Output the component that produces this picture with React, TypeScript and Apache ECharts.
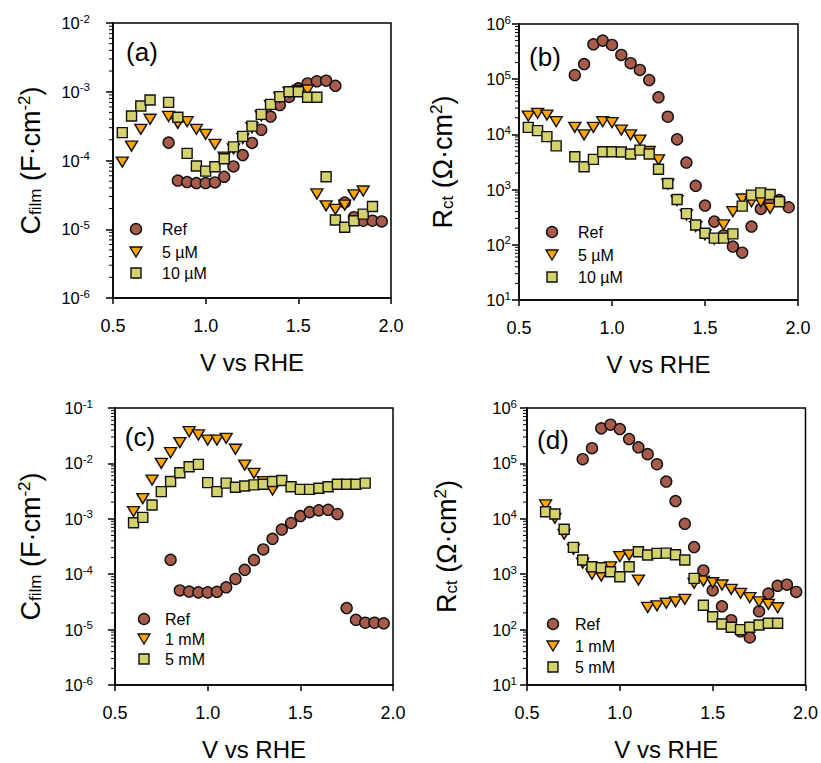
import React, { useEffect, useRef } from "react";
import * as echarts from "echarts";

// ---------- data ----------
const V_REF = [0.8, 0.85, 0.9, 0.95, 1.0, 1.05, 1.1, 1.15, 1.2, 1.25, 1.3, 1.35, 1.4, 1.45, 1.5, 1.55, 1.6, 1.65, 1.7, 1.75, 1.8, 1.85, 1.9, 1.95];
const CFILM_REF = [1.82e-4, 5.1e-5, 4.85e-5, 4.7e-5, 4.7e-5, 4.8e-5, 5.8e-5, 8.2e-5, 1.2e-4, 1.8e-4, 2.8e-4, 4.35e-4, 6.4e-4, 8.4e-4, 1.12e-3, 1.32e-3, 1.42e-3, 1.45e-3, 1.22e-3, 2.45e-5, 1.5e-5, 1.33e-5, 1.33e-5, 1.3e-5];
const RCT_REF = [1.19e5, 1.88e5, 4.29e5, 5.0e5, 4.17e5, 2.75e5, 1.95e5, 1.47e5, 9.66e4, 4.7e4, 2.09e4, 8.13e3, 3.09e3, 1.17e3, 513, 263, 148, 93, 72, 214, 447, 617, 646, 479];

const V_5UM = [0.55, 0.6, 0.65, 0.7, 0.8, 0.85, 0.9, 0.95, 1.0, 1.05, 1.1, 1.15, 1.2, 1.25, 1.3, 1.35, 1.4, 1.45, 1.5, 1.55, 1.6, 1.65, 1.7, 1.75, 1.8, 1.85];
const CFILM_5UM = [9.5e-5, 1.62e-4, 2.84e-4, 3.98e-4, 4.37e-4, 3.47e-4, 3.67e-4, 2.84e-4, 2.4e-4, 1.72e-4, 1.12e-4, 1.48e-4, 2.09e-4, 3.0e-4, 4.47e-4, 6.3e-4, 8.3e-4, 9.8e-4, 1.05e-3, 1.06e-3, 3.26e-5, 2.19e-5, 1.95e-5, 2.25e-5, 3.16e-5, 3.6e-5];
const RCT_5UM = [2.15e4, 2.41e4, 2.24e4, 1.7e4, 1.34e4, 9.8e3, 1.34e4, 1.7e4, 1.63e4, 1.2e4, 9.8e3, 7.9e3, 4.9e3, 3.47e3, 1.26e3, 631, 347, 214, 151, 126, 229, 398, 676, 603, 603, 457];

const V_10UM = [0.55, 0.6, 0.65, 0.7, 0.8, 0.85, 0.9, 0.95, 1.0, 1.05, 1.1, 1.15, 1.2, 1.25, 1.3, 1.35, 1.4, 1.45, 1.5, 1.55, 1.6, 1.65, 1.7, 1.75, 1.8, 1.85, 1.9];
const CFILM_10UM = [2.54e-4, 4.44e-4, 6.2e-4, 7.6e-4, 7.0e-4, 4.25e-4, 1.27e-4, 8.3e-5, 7.0e-5, 8.1e-5, 1.06e-4, 1.58e-4, 2.24e-4, 3.16e-4, 4.68e-4, 6.56e-4, 8.5e-4, 1.0e-3, 1.0e-3, 8.3e-4, 8.3e-4, 5.8e-5, 1.36e-5, 1.07e-5, 1.33e-5, 1.66e-5, 2.14e-5];
const RCT_10UM = [1.34e4, 1.17e4, 9.1e3, 6.2e3, 3.94e3, 2.6e3, 3.53e3, 4.86e3, 4.86e3, 4.79e3, 4.42e3, 5.2e3, 4.42e3, 2.33e3, 1.29e3, 661, 367, 229, 162, 132, 132, 158, 501, 794, 871, 813, 603];

const V_1MM_C = [0.6, 0.65, 0.7, 0.75, 0.8, 0.85, 0.9, 0.95, 1.0, 1.05, 1.1, 1.15, 1.2, 1.25, 1.3, 1.35];
const CFILM_1MM = [1.35e-3, 2.31e-3, 5.0e-3, 1.0e-2, 1.56e-2, 2.37e-2, 3.73e-2, 3.26e-2, 2.64e-2, 2.64e-2, 2.83e-2, 1.8e-2, 9.3e-3, 6.6e-3, 4.7e-3, 3.3e-3];

const V_MM = [0.6, 0.65, 0.7, 0.75, 0.8, 0.85, 0.9, 0.95, 1.0, 1.05, 1.1, 1.15, 1.2, 1.25, 1.3, 1.35, 1.4, 1.45, 1.5, 1.55, 1.6, 1.65, 1.7, 1.75, 1.8, 1.85];
const CFILM_5MM = [8.5e-4, 1.06e-3, 1.78e-3, 3.1e-3, 4.7e-3, 6.8e-3, 8.7e-3, 9.6e-3, 4.5e-3, 3.1e-3, 4.4e-3, 3.7e-3, 3.9e-3, 4.1e-3, 4.2e-3, 4.7e-3, 4.9e-3, 3.8e-3, 3.4e-3, 3.4e-3, 3.55e-3, 3.8e-3, 4.2e-3, 4.2e-3, 4.2e-3, 4.4e-3];
const RCT_1MM = [1.78e4, 1.02e4, 5.25e3, 2.82e3, 1.58e3, 1.0e3, 927, 1.36e3, 2.07e3, 2.22e3, 785, 251, 269, 299, 318, 352, 685, 753, 701, 638, 533, 452, 377, 318, 286, 248];
const RCT_5MM = [1.34e4, 1.22e4, 6.46e3, 3.05e3, 1.8e3, 1.36e3, 1.31e3, 1.11e3, 902, 1.36e3, 2.55e3, 2.22e3, 2.38e3, 2.4e3, 2.24e3, 1.8e3, 841, 275, 171, 126, 110, 100, 110, 121, 130, 130];

const PANEL_LABELS = ["(a)", "(b)", "(c)", "(d)"];
const LEGEND_AB = ["Ref", "5 \u00b5M", "10 \u00b5M"];
const LEGEND_CD = ["Ref", "1 mM", "5 mM"];

// ---------- styles ----------
const FONT = "'Liberation Sans', Arial, Helvetica, sans-serif";
const C_REF = "#A65B4B";
const C_TRI = "#FFA500";
const C_SQ = "#D4D26C";
const EDGE = "#111111";

const GRIDS = [
  { left: 113, top: 23, width: 278, height: 275 },
  { left: 519, top: 24, width: 279, height: 276 },
  { left: 115, top: 408, width: 278, height: 277 },
  { left: 527, top: 408, width: 279, height: 277 },
];
const Y_RANGE = [
  [-6, -2],
  [1, 6],
  [-6, -1],
  [1, 6],
];
const Y_NAMES = [
  "C{sub|film} (F\u00b7cm{sup|-2})",
  "R{sub|ct} (\u03a9\u00b7cm{sup|2})",
  "C{sub|film} (F\u00b7cm{sup|-2})",
  "R{sub|ct} (\u03a9\u00b7cm{sup|2})",
];
const Y_NAME_GAP = [68, 62, 70, 66];
const Y_LABEL_MARGIN = [23, 8, 22, 10];
const LEGEND_POS = [
  { x: 136, tx: 162, rows: [229, 252, 273] },
  { x: 552, tx: 578, rows: [232, 255, 277] },
  { x: 144, tx: 165, rows: [619, 639, 659] },
  { x: 553, tx: 575, rows: [624, 646, 667] },
];
const PANEL_LABEL_POS = [
  [142, 52],
  [545, 57],
  [140, 437],
  [553, 440],
];

const refStyle = {
  symbol: "circle",
  symbolSize: 11,
  itemStyle: { color: C_REF, borderColor: EDGE, borderWidth: 1.4, opacity: 1 },
};
const triStyle = {
  symbol: "triangle",
  symbolSize: [12, 10],
  symbolRotate: 180,
  itemStyle: { color: C_TRI, borderColor: EDGE, borderWidth: 1.4, opacity: 1 },
};
const sqStyle = {
  symbol: "rect",
  symbolSize: 10,
  itemStyle: { color: C_SQ, borderColor: EDGE, borderWidth: 1.4, opacity: 1 },
};

function pairs(xs: number[], ys: number[]) {
  return xs.map((x, i) => [x, ys[i]]);
}

export default function App() {
  const ref = useRef<HTMLDivElement>(null);

  useEffect(() => {
    if (!ref.current) return;
    const chart = echarts.init(ref.current, undefined, { renderer: "svg" });

    const xAxes = GRIDS.map((_, i) => ({
      type: "value",
      gridIndex: i,
      min: 0.5,
      max: 2.0,
      interval: 0.5,
      name: "V vs RHE",
      nameLocation: "middle",
      nameGap: 52,
      nameTextStyle: { fontFamily: FONT, fontSize: 24, color: "#000" },
      axisLine: { show: true, onZero: false, lineStyle: { color: "#000", width: 1.5 } },
      axisTick: { show: true, inside: false, length: 6, lineStyle: { color: "#000", width: 1.5 } },
      axisLabel: {
        margin: 19,
        fontFamily: FONT,
        fontSize: 18,
        color: "#000",
        formatter: (v: number) => v.toFixed(1),
      },
      splitLine: { show: false },
    }));

    const yAxes = GRIDS.map((_, i) => ({
      type: "log",
      logBase: 10,
      gridIndex: i,
      min: Math.pow(10, Y_RANGE[i][0]),
      max: Math.pow(10, Y_RANGE[i][1]),
      splitNumber: Y_RANGE[i][1] - Y_RANGE[i][0],
      name: Y_NAMES[i],
      nameLocation: "middle",
      nameRotate: 90,
      nameGap: Y_NAME_GAP[i],
      nameTextStyle: {
        fontFamily: FONT,
        fontSize: 27,
        color: "#000",
        rich: {
          sub: { fontFamily: FONT, fontSize: 17, color: "#000", padding: [10, 0, 0, 0] },
          sup: { fontFamily: FONT, fontSize: 17, color: "#000", padding: [0, 0, 12, 0] },
        },
      },
      axisLine: { show: true, onZero: false, lineStyle: { color: "#000", width: 1.5 } },
      axisTick: { show: true, inside: false, length: 7, lineStyle: { color: "#000", width: 1.5 } },
      axisLabel: {
        margin: Y_LABEL_MARGIN[i],
        showMinLabel: true,
        showMaxLabel: true,
        formatter: (v: number) => `{b|10}{s|${Math.round(Math.log10(v))}}`,
        rich: {
          b: { fontFamily: FONT, fontSize: 16.5, color: "#000" },
          s: { fontFamily: FONT, fontSize: 11.5, color: "#000", padding: [0, 0, 9, 0] },
        },
      },
      splitLine: { show: false },
    }));

    const panelSeries = [
      [pairs(V_REF, CFILM_REF), pairs(V_5UM, CFILM_5UM), pairs(V_10UM, CFILM_10UM)],
      [pairs(V_REF, RCT_REF), pairs(V_5UM, RCT_5UM), pairs(V_10UM, RCT_10UM)],
      [pairs(V_REF, CFILM_REF), pairs(V_1MM_C, CFILM_1MM), pairs(V_MM, CFILM_5MM)],
      [pairs(V_REF, RCT_REF), pairs(V_MM, RCT_1MM), pairs(V_MM, RCT_5MM)],
    ];
    const styles = [refStyle, triStyle, sqStyle];
    const series: any[] = [];
    panelSeries.forEach((list, p) => {
      const names = p < 2 ? LEGEND_AB : LEGEND_CD;
      list.forEach((data, k) => {
        series.push({
          type: "scatter",
          name: names[k] + "_" + p,
          xAxisIndex: p,
          yAxisIndex: p,
          data,
          ...styles[k],
          emphasis: { disabled: true },
        });
      });
    });

    chart.setOption({
      animation: false,
      backgroundColor: "#ffffff",
      textStyle: { fontFamily: FONT },
      grid: GRIDS.map((g) => ({
        ...g,
        show: true,
        borderColor: "#000",
        borderWidth: 1.5,
        backgroundColor: "transparent",
        containLabel: false,
      })),
      xAxis: xAxes,
      yAxis: yAxes,
      series,
    });

    // graphics: legends, panel labels, log minor ticks
    const graphics: any[] = [];
    LEGEND_POS.forEach((lp, p) => {
      const names = p < 2 ? LEGEND_AB : LEGEND_CD;
      const [y0, y1, y2] = lp.rows;
      graphics.push({
        type: "circle",
        shape: { cx: lp.x, cy: y0, r: 5.5 },
        style: { fill: C_REF, stroke: EDGE, lineWidth: 1.4 },
      });
      graphics.push({
        type: "polygon",
        shape: { points: [[lp.x - 6, y1 - 5], [lp.x + 6, y1 - 5], [lp.x, y1 + 5]] },
        style: { fill: C_TRI, stroke: EDGE, lineWidth: 1.4 },
      });
      graphics.push({
        type: "rect",
        shape: { x: lp.x - 5, y: y2 - 5, width: 10, height: 10 },
        style: { fill: C_SQ, stroke: EDGE, lineWidth: 1.4 },
      });
      [y0, y1, y2].forEach((yy, k) => {
        graphics.push({
          type: "text",
          x: lp.tx,
          y: yy,
          style: {
            text: names[k],
            fontFamily: FONT,
            fontSize: 16,
            fill: "#000",
            textAlign: "left",
            textVerticalAlign: "middle",
          },
        });
      });
    });
    PANEL_LABEL_POS.forEach(([x, y], p) => {
      graphics.push({
        type: "text",
        x,
        y,
        style: {
          text: PANEL_LABELS[p],
          fontFamily: FONT,
          fontSize: 26,
          fill: "#000",
          textAlign: "center",
          textVerticalAlign: "middle",
        },
      });
    });
    GRIDS.forEach((g, p) => {
      const [lo, hi] = Y_RANGE[p];
      for (let d = lo; d < hi; d++) {
        for (let k = 2; k <= 9; k++) {
          const py = chart.convertToPixel({ yAxisIndex: p } as any, k * Math.pow(10, d)) as number;
          if (typeof py !== "number" || isNaN(py)) continue;
          graphics.push({
            type: "line",
            shape: { x1: g.left - 4, y1: py, x2: g.left, y2: py },
            style: { stroke: "#000", lineWidth: 1 },
            silent: true,
          });
        }
      }
    });
    chart.setOption({ graphic: graphics });

    return () => chart.dispose();
  }, []);

  return (
    <div
      ref={ref}
      style={{ position: "fixed", left: 0, top: 0, width: 821, height: 763, background: "#fff" }}
    />
  );
}
